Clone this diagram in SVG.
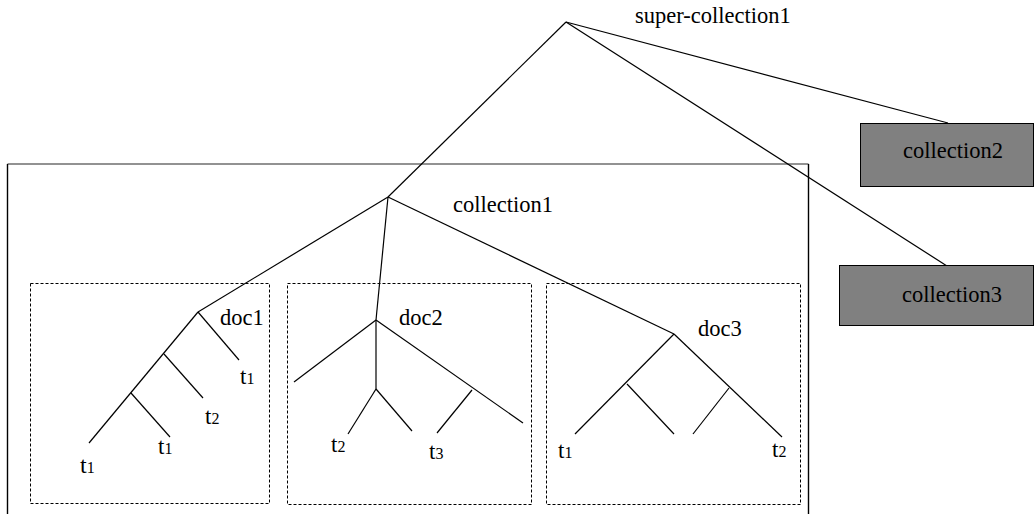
<svg xmlns="http://www.w3.org/2000/svg" width="1034" height="514" viewBox="0 0 1034 514">
<style>
text{font-family:"Times New Roman",Times,Tinos,"Liberation Serif","DejaVu Serif","Noto Serif",serif;fill:#000}
.lbl{font-size:22.5px}
.t{font-size:23px}
.sub{font-size:16px}
.e{stroke:#000;stroke-width:1.2;fill:none}
.doc{fill:none;stroke:#000;stroke-width:1;stroke-dasharray:3 2}
.coll{fill:#808080;stroke:#000;stroke-width:1}
</style>
<rect width="1034" height="514" fill="#fff"/>
<g id="outer-box">
<path d="M7.5 164 H808.5" stroke="#6e6e6e" stroke-width="1.6" fill="none"/>
<path d="M7.5 164 V514 M808.5 164 V514" stroke="#000" stroke-width="1.4" fill="none"/>
</g>
<g id="doc1-box"><rect class="doc" x="30.5" y="283.5" width="239" height="220"/></g>
<g id="doc2-box"><rect class="doc" x="287.5" y="283.5" width="244" height="221"/></g>
<g id="doc3-box"><rect class="doc" x="546.5" y="283.5" width="254" height="221"/></g>
<g id="connectors" class="e">
<path d="M566 22 L388 197"/>
<path d="M566 22 L948 123"/>
<path d="M566 22 L947 266"/>
<path d="M388 197 L198 312"/>
<path d="M388 197 L376 320"/>
<path d="M388 197 L674 334"/>
<path d="M198 312 L239 360"/>
<path d="M198 312 L89 443"/>
<path d="M164 354 L203 398"/>
<path d="M131 393 L170 437"/>
<path d="M376 320 L294 382"/>
<path d="M376 320 L376 389"/>
<path d="M376 389 L348 434"/>
<path d="M376 389 L412 431"/>
<path d="M376 320 L523 423"/>
<path d="M472 390 L437 433"/>
<path d="M674 334 L575 434"/>
<path d="M627 384 L674 434"/>
<path d="M674 334 L782 437"/>
<path d="M729 388 L693 434"/>
</g>
<g id="super-collection1"><text class="lbl" x="635" y="23">super-collection1</text></g>
<g id="collection1"><text class="lbl" x="453" y="212">collection1</text></g>
<g id="collection2"><rect class="coll" x="860.5" y="123.5" width="173" height="63"/><text class="lbl" x="903" y="158">collection2</text></g>
<g id="collection3"><rect class="coll" x="839.5" y="265.5" width="194" height="60"/><text class="lbl" x="902" y="302">collection3</text></g>
<g id="doc1"><text class="lbl" x="220" y="325">doc1</text></g>
<g id="doc2"><text class="lbl" x="399" y="325">doc2</text></g>
<g id="doc3"><text class="lbl" x="698" y="336">doc3</text></g>
<g id="doc1-t1a"><text class="t" x="240" y="384">t<tspan class="sub">1</tspan></text></g>
<g id="doc1-t2"><text class="t" x="205" y="424">t<tspan class="sub">2</tspan></text></g>
<g id="doc1-t1b"><text class="t" x="158" y="454">t<tspan class="sub">1</tspan></text></g>
<g id="doc1-t1c"><text class="t" x="80" y="473" style="font-size:24px">t<tspan class="sub">1</tspan></text></g>
<g id="doc2-t2"><text class="t" x="331" y="452">t<tspan class="sub">2</tspan></text></g>
<g id="doc2-t3"><text class="t" x="429" y="459">t<tspan class="sub">3</tspan></text></g>
<g id="doc3-t1"><text class="t" x="558" y="458">t<tspan class="sub">1</tspan></text></g>
<g id="doc3-t2"><text class="t" x="772" y="457">t<tspan class="sub">2</tspan></text></g>
</svg>
